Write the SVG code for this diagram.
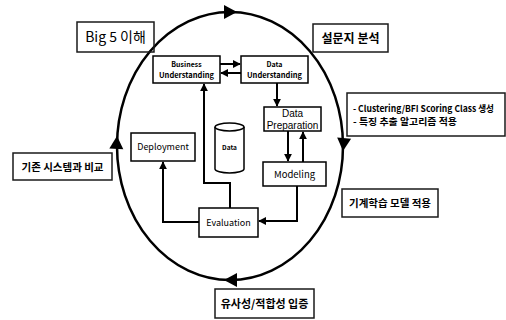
<svg xmlns="http://www.w3.org/2000/svg" width="506" height="320" viewBox="0 0 506 320">
<defs>
<style>
text{font-family:"Noto Sans CJK KR","Noto Sans",sans-serif;fill:#000;text-anchor:middle}
.lat{font-family:"Liberation Sans","Noto Sans",sans-serif}
.box{fill:#fff;stroke:#000;stroke-width:1.5}
.lbl{fill:none;stroke:#1a1a1a;stroke-width:1.5}
.con{fill:none;stroke:#000;stroke-width:2}
.b{font-weight:bold}
</style>
<marker id="ah" viewBox="0 0 10 10" refX="9" refY="5" markerWidth="4" markerHeight="4" orient="auto" markerUnits="strokeWidth">
<path d="M0,0 L10,5 L0,10 z" fill="#000"/>
</marker>
<path id="big" d="M0,0 L-13,-7 L-13,7 z" fill="#000"/>
</defs>
<rect width="506" height="320" fill="#fff"/>

<g id="cycle">
<ellipse cx="230" cy="146" rx="113" ry="134" fill="none" stroke="#000" stroke-width="2.5"/>
<use href="#big" transform="translate(237,12)"/>
<use href="#big" transform="translate(343,151) rotate(95)"/>
<use href="#big" transform="translate(224,280) rotate(180)"/>
<use href="#big" transform="translate(117,136) rotate(-87)"/>
</g>

<g id="connectors">
<line class="con" x1="220" y1="64" x2="240" y2="64" marker-end="url(#ah)"/>
<line class="con" x1="241" y1="73" x2="221" y2="73" marker-end="url(#ah)"/>
<line class="con" x1="277" y1="83" x2="277" y2="106" marker-end="url(#ah)"/>
<line class="con" x1="288" y1="131" x2="288" y2="161" marker-end="url(#ah)"/>
<line class="con" x1="303" y1="162" x2="303" y2="132" marker-end="url(#ah)"/>
<polyline class="con" points="297,186 297,221 259,221" marker-end="url(#ah)"/>
<polyline class="con" points="199,222 163,222 163,162" marker-end="url(#ah)"/>
<polyline class="con" points="230,208 230,183 204,183 204,84" marker-end="url(#ah)"/>
</g>

<g id="big5"><rect class="lbl" x="77" y="22" width="77" height="30"/><text x="115.5" y="42" font-size="14">Big 5 이해</text></g>
<g id="survey"><rect class="lbl" x="313" y="24" width="75" height="28"/><text class="b" x="350.5" y="42.5" font-size="12">설문지 분석</text></g>
<g id="compare"><rect class="lbl" x="13" y="153" width="99" height="27"/><text class="b" x="62.5" y="170.5" font-size="10.5">기존 시스템과 비교</text></g>
<g id="ml"><rect class="lbl" x="342" y="189" width="96" height="28"/><text class="b" x="390" y="207" font-size="10.5">기계학습 모델 적용</text></g>
<g id="clustering"><rect class="lbl" x="347" y="93" width="158" height="43"/>
<text class="b" x="353" y="112" font-size="9" textLength="141" lengthAdjust="spacingAndGlyphs" style="text-anchor:start">- Clustering/BFI Scoring Class 생성</text>
<text class="b" x="353" y="125" font-size="9" textLength="104" lengthAdjust="spacingAndGlyphs" style="text-anchor:start">- 특징 추출 알고리즘 적용</text></g>
<g id="similarity"><rect class="lbl" x="215" y="289" width="99" height="29"/><text class="b" x="264.5" y="307.5" font-size="11">유사성/적합성 입증</text></g>

<g id="bu"><rect class="box" x="153" y="56" width="67" height="27"/>
<text class="b" x="186.5" y="67" font-size="7">Business</text><text class="b" x="186.5" y="77.5" font-size="7.5">Understanding</text></g>
<g id="du"><rect class="box" x="241" y="56" width="67" height="27"/>
<text class="b" x="274.5" y="67" font-size="7">Data</text><text class="b" x="274.5" y="77.5" font-size="7.5">Understanding</text></g>
<g id="dp"><rect class="box" x="264" y="107" width="57" height="24"/>
<text class="lat" x="292.5" y="117" font-size="10">Data</text><text class="lat" x="292.5" y="128.5" font-size="10">Preparation</text></g>
<g id="modeling"><rect class="box" x="263" y="162" width="63" height="24"/><text x="294.5" y="177.5" font-size="9.5">Modeling</text></g>
<g id="evaluation"><rect class="box" x="199" y="208" width="59" height="29"/><text x="228.5" y="225.5" font-size="9">Evaluation</text></g>
<g id="deployment"><rect class="box" x="131" y="133" width="64" height="28"/><text x="163" y="150" font-size="9">Deployment</text></g>
<g id="data">
<path d="M215,127 L215,169 A14.5,4 0 0 0 244,169 L244,127" fill="#fff" stroke="#000" stroke-width="1.5"/>
<ellipse cx="229.5" cy="127" rx="14.5" ry="4" fill="#fff" stroke="#000" stroke-width="1.5"/>
<text x="229.5" y="150" font-size="6.5" class="b">Data</text></g>
</svg>
